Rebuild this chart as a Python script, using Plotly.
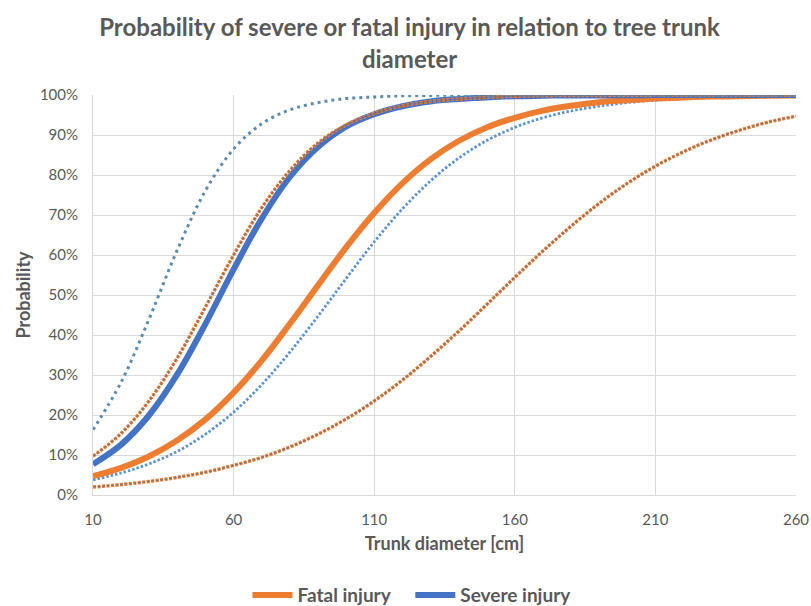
import plotly.graph_objects as go

diameter = [10, 20, 30, 40, 50, 60, 70, 80, 90, 100, 110, 120, 130, 140, 150,
            160, 170, 180, 190, 200, 210, 220, 230, 240, 250, 260]

fatal = [4.7, 6.8, 9.7, 13.7, 18.9, 25.6, 33.6, 42.8, 52.4, 61.9, 70.5, 77.9, 83.9,
         88.5, 91.9, 94.3, 96.1, 97.3, 98.2, 98.7, 99.1, 99.4, 99.6, 99.7, 99.8, 99.9]
fatal_upper = [9.7, 15.4, 23.6, 34.3, 47.0, 60.0, 71.8, 81.1, 88.0, 92.5, 95.4, 97.3,
               98.4, 99.0, 99.4, 99.7, 99.8, 99.9, 99.9, 99.95, 99.97, 99.98, 99.99,
               99.99, 99.99, 100.0]
fatal_lower = [2.0, 2.6, 3.4, 4.4, 5.7, 7.4, 9.4, 12.0, 15.2, 19.0, 23.5, 28.7, 34.6,
               40.9, 47.6, 54.4, 61.0, 67.2, 72.9, 77.9, 82.2, 85.8, 88.8, 91.2, 93.2, 94.7]

severe = [7.7, 12.6, 20.0, 30.2, 42.8, 56.4, 69.1, 79.5, 87.0, 92.1, 95.2, 97.2, 98.4,
          99.0, 99.4, 99.7, 99.8, 99.9, 99.9, 99.95, 99.97, 99.98, 99.99, 99.99, 99.99, 100.0]
severe_upper = [16.3, 28.2, 44.1, 61.3, 76.1, 86.5, 92.8, 96.3, 98.1, 99.1, 99.5, 99.8,
                99.9, 99.95, 99.97, 99.98, 99.99, 99.99, 100.0, 100.0, 100.0, 100.0,
                100.0, 100.0, 100.0, 100.0]
severe_lower = [3.8, 5.5, 7.8, 10.9, 15.2, 20.7, 27.6, 35.7, 44.7, 54.1, 63.3, 71.5,
                78.5, 84.2, 88.6, 91.9, 94.3, 96.0, 97.2, 98.1, 98.7, 99.1, 99.4, 99.6,
                99.7, 99.8]

x_ticks = [10, 60, 110, 160, 210, 260]
y_ticks = [0, 10, 20, 30, 40, 50, 60, 70, 80, 90, 100]
y_tick_labels = [f"{v}%" for v in y_ticks]

ORANGE = "#ED7D31"
BLUE = "#4472C4"
STEEL = "#5B8CAB"
LIGHTBLUE = "#5B93D3"
GRAY = "#595959"
FONT = "Lato"

fig = go.Figure()

# dotted confidence bounds
fig.add_trace(go.Scatter(x=diameter, y=fatal_lower, mode="lines", line_shape="spline",
                         line=dict(color=ORANGE, width=3.5, dash="3px,1.5px"), showlegend=False, hoverinfo="skip"))
fig.add_trace(go.Scatter(x=diameter, y=fatal_lower, mode="lines", line_shape="spline",
                         line=dict(color="#8A6E66", width=1.2, dash="3px,1.5px"), showlegend=False, hoverinfo="skip"))
fig.add_trace(go.Scatter(x=diameter, y=severe_lower, mode="lines", line_shape="spline",
                         line=dict(color=LIGHTBLUE, width=2.8, dash="2.5px,2px"), showlegend=False, hoverinfo="skip"))

# main curves
fig.add_trace(go.Scatter(x=diameter, y=fatal, mode="lines", line_shape="spline",
                         name="<b>Fatal injury</b>&nbsp;&nbsp;&nbsp;",
                         line=dict(color=ORANGE, width=6)))
fig.add_trace(go.Scatter(x=diameter, y=severe, mode="lines", line_shape="spline", name="<b>Severe injury</b>",
                         line=dict(color=BLUE, width=6)))

fig.add_trace(go.Scatter(x=diameter, y=fatal_upper, mode="lines", line_shape="spline",
                         line=dict(color=ORANGE, width=3.5, dash="3px,1.5px"), showlegend=False, hoverinfo="skip"))
fig.add_trace(go.Scatter(x=diameter, y=fatal_upper, mode="lines", line_shape="spline",
                         line=dict(color="#8A6E66", width=1.2, dash="3px,1.5px"), showlegend=False, hoverinfo="skip"))
fig.add_trace(go.Scatter(x=diameter, y=severe_upper, mode="lines", line_shape="spline",
                         line=dict(color=STEEL, width=3, dash="3px,4px"), showlegend=False, hoverinfo="skip"))

fig.update_layout(
    width=811, height=606,
    paper_bgcolor="white", plot_bgcolor="white",
    margin=dict(l=93, r=15, t=95, b=111, autoexpand=False),
    font=dict(family=FONT, color=GRAY),
    title=dict(text="<b>Probability of severe or fatal injury in relation to tree trunk<br>diameter</b>",
               x=0.505, xanchor="center", xref="container", yref="container",
               y=0.94, yanchor="top",
               font=dict(family=FONT, size=24, color=GRAY)),
    xaxis=dict(range=[10, 260], tickvals=x_ticks, ticktext=[str(v) for v in x_ticks],
               showgrid=True, gridcolor="#D9D9D9", gridwidth=1, automargin=False,
               showline=True, linecolor="#D9D9D9", linewidth=1, zeroline=False,
               ticks="outside", ticklen=11, tickcolor="rgba(0,0,0,0)",
               tickfont=dict(family=FONT, size=15, color=GRAY),
               title=dict(text="<b>Trunk diameter [cm]</b>", font=dict(family=FONT, size=18, color=GRAY), standoff=10)),
    yaxis=dict(range=[0, 100], tickvals=y_ticks, ticktext=y_tick_labels,
               showgrid=True, gridcolor="#D9D9D9", gridwidth=1, automargin=False,
               showline=True, linecolor="#D9D9D9", linewidth=1, zeroline=False,
               ticks="outside", ticklen=11, tickcolor="rgba(0,0,0,0)",
               tickfont=dict(family=FONT, size=15, color=GRAY),
               title=dict(text="<b>Probability</b>", font=dict(family=FONT, size=18, color=GRAY), standoff=4)),
    legend=dict(orientation="h", x=0.508, xanchor="center", xref="container",
                yref="container", y=0.018, yanchor="middle",
                font=dict(family=FONT, size=19, color=GRAY), traceorder="normal",
                itemwidth=40, tracegroupgap=0),
)

fig.write_html("out.html", config={"displayModeBar": False},
               post_script="document.body.style.margin='0px';")
